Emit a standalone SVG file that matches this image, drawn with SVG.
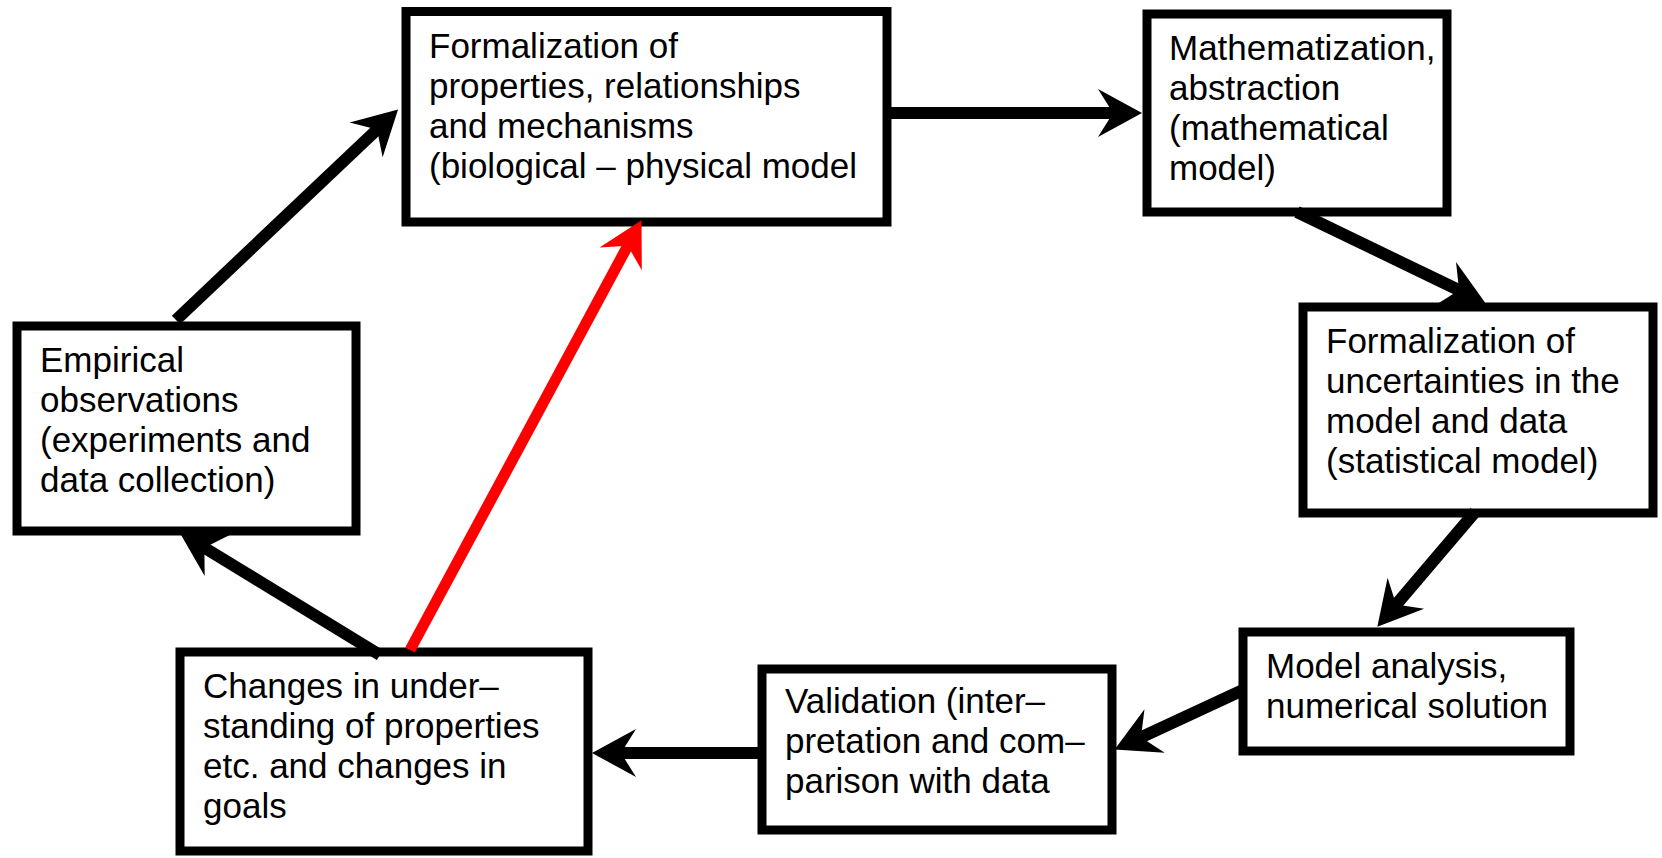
<svg xmlns="http://www.w3.org/2000/svg" width="1662" height="858" viewBox="0 0 1662 858">
<defs>
<style>
.box{fill:#fff;stroke:#000;stroke-width:9}
.t{font-family:"Liberation Sans",Arial,sans-serif;font-size:35px;fill:#000}
.c{fill:none;stroke:#000;stroke-width:12}
.r{fill:none;stroke:#ff0000;stroke-width:11}
</style>
<marker id="ah" viewBox="-30 -26 50 52" markerWidth="50" markerHeight="52" refX="0" refY="0" markerUnits="userSpaceOnUse" orient="auto">
<path d="M18,0 L-26,-24 L-11,0 L-26,24 Z" fill="#000"/>
</marker>
<marker id="ahr" viewBox="-30 -26 50 52" markerWidth="50" markerHeight="52" refX="0" refY="0" markerUnits="userSpaceOnUse" orient="auto">
<path d="M18,0 L-26,-24 L-11,0 L-26,24 Z" fill="#ff0000"/>
</marker>
</defs>
<rect width="1662" height="858" fill="#fff"/>
<g id="n-formalization">
<rect class="box" x="406" y="11.5" width="481" height="210.5"/>
<text class="t" x="429" y="58">Formalization of</text>
<text class="t" x="429" y="98">properties, relationships</text>
<text class="t" x="429" y="138">and mechanisms</text>
<text class="t" x="429" y="178">(biological – physical model</text>
</g>
<g id="n-mathematization">
<rect class="box" x="1147" y="14" width="300" height="198"/>
<text class="t" x="1169" y="60">Mathematization,</text>
<text class="t" x="1169" y="100">abstraction</text>
<text class="t" x="1169" y="140">(mathematical</text>
<text class="t" x="1169" y="180">model)</text>
</g>
<g id="n-uncertainties">
<rect class="box" x="1303" y="307" width="350" height="206"/>
<text class="t" x="1326" y="353">Formalization of</text>
<text class="t" x="1326" y="393">uncertainties in the</text>
<text class="t" x="1326" y="433">model and data</text>
<text class="t" x="1326" y="473">(statistical model)</text>
</g>
<g id="n-analysis">
<rect class="box" x="1243" y="632" width="327" height="119"/>
<text class="t" x="1266" y="678">Model analysis,</text>
<text class="t" x="1266" y="718">numerical solution</text>
</g>
<g id="n-validation">
<rect class="box" x="762" y="669" width="350" height="161"/>
<text class="t" x="785" y="713">Validation (inter–</text>
<text class="t" x="785" y="753">pretation and com–</text>
<text class="t" x="785" y="793">parison with data</text>
</g>
<g id="n-changes">
<rect class="box" x="180" y="652" width="408" height="199"/>
<text class="t" x="203" y="698">Changes in under–</text>
<text class="t" x="203" y="738">standing of properties</text>
<text class="t" x="203" y="778">etc. and changes in</text>
<text class="t" x="203" y="818">goals</text>
</g>
<g id="n-empirical">
<rect class="box" x="17" y="326" width="339" height="205"/>
<text class="t" x="40" y="372">Empirical</text>
<text class="t" x="40" y="412">observations</text>
<text class="t" x="40" y="452">(experiments and</text>
<text class="t" x="40" y="492">data collection)</text>
</g>
<g id="connectors">
<line class="c" x1="176" y1="320" x2="385" y2="122" marker-end="url(#ah)"/>
<line class="c" x1="887" y1="113" x2="1124" y2="113" marker-end="url(#ah)"/>
<line class="c" x1="1297" y1="212" x2="1469" y2="295" marker-end="url(#ah)"/>
<line class="c" x1="1475" y1="512" x2="1389" y2="613" marker-end="url(#ah)"/>
<line class="c" x1="1243" y1="690" x2="1131" y2="742" marker-end="url(#ah)"/>
<line class="c" x1="762" y1="753" x2="610" y2="753" marker-end="url(#ah)"/>
<line class="c" x1="380" y1="655" x2="195" y2="542" marker-end="url(#ah)"/>
<line class="r" x1="410" y1="650" x2="633" y2="236" marker-end="url(#ahr)"/>
</g>
</svg>
